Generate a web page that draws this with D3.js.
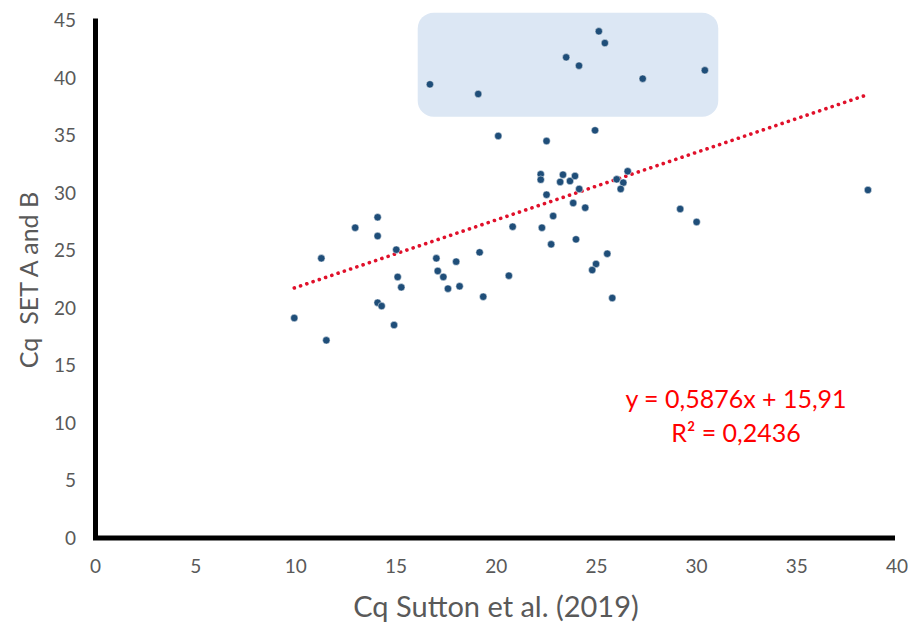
<!DOCTYPE html>
<html>
<head>
<meta charset="utf-8">
<script src="https://cdn.jsdelivr.net/npm/d3@7"></script>
<style>
  html, body { margin: 0; padding: 0; background: #fff; }
  svg { display: block; font-family: Lato, "Open Sans", sans-serif; }
</style>
</head>
<body>
<div id="chart"></div>
<script>
// Cq values
const cqSutton = [
  16.69, 19.10, 23.49, 24.13, 25.12, 25.42, 27.31, 30.41,
  20.10, 22.51, 24.93, 22.22, 22.22, 23.33, 23.19, 23.68, 23.93, 24.14,
  22.51, 23.84, 24.44, 22.84, 20.82, 22.28, 23.98, 22.74,
  14.08, 12.96, 14.08, 15.01, 11.27, 19.17, 17.01, 18.00, 17.08, 17.36,
  15.08, 15.26, 17.59, 18.17, 20.63, 19.35, 24.98, 24.79, 25.54, 25.79,
  14.08, 14.28, 14.90, 9.92, 11.52,
  26.56, 26.01, 26.34, 26.21, 29.18, 30.00, 38.55
];
const cqSetAB = [
  39.45, 38.61, 41.80, 41.07, 44.06, 43.04, 39.94, 40.67,
  34.96, 34.52, 35.45, 31.63, 31.16, 31.59, 30.96, 31.04, 31.48, 30.35,
  29.85, 29.13, 28.72, 28.00, 27.07, 26.98, 25.97, 25.54,
  27.89, 26.98, 26.26, 25.07, 24.32, 24.84, 24.32, 24.03, 23.22, 22.70,
  22.70, 21.80, 21.68, 21.89, 22.81, 20.98, 23.83, 23.30, 24.72, 20.87,
  20.46, 20.17, 18.52, 19.13, 17.19,
  31.89, 31.19, 30.90, 30.35, 28.61, 27.48, 30.26
];
const xTicks = [0, 5, 10, 15, 20, 25, 30, 35, 40];
const yTicks = [0, 5, 10, 15, 20, 25, 30, 35, 40, 45];
// linear trend as printed on the chart
const slope = 0.5876;
const intercept = 15.91;
const eqLines = ["y = 0,5876x + 15,91", "R² = 0,2436"];
// highlighted group (data units)
const boxX = [16.08, 31.08];
const boxY = [36.63, 45.68];

const width = 908, height = 627;
const svg = d3.select("#chart").append("svg")
  .attr("width", width).attr("height", height);

const x = d3.scaleLinear().domain([0, 40]).range([95.5, 897]);
const y = d3.scaleLinear().domain([0, 45]).range([538, 20.5]);

// highlight box
svg.append("rect")
  .attr("x", x(boxX[0])).attr("y", y(boxY[1]))
  .attr("width", x(boxX[1]) - x(boxX[0]))
  .attr("height", y(boxY[0]) - y(boxY[1]))
  .attr("rx", 16).attr("ry", 16)
  .attr("fill", "#dce7f4");

// tick labels
svg.append("g").selectAll("text").data(xTicks).join("text")
  .attr("x", (d) => x(d)).attr("y", 573)
  .attr("text-anchor", "middle")
  .attr("font-size", "19px").attr("fill", "#595959")
  .text((d) => d);

svg.append("g").selectAll("text").data(yTicks).join("text")
  .attr("x", 76).attr("y", (d) => y(d)).attr("dy", "0.35em")
  .attr("text-anchor", "end")
  .attr("font-size", "19px").attr("fill", "#595959")
  .text((d) => d);

// axes (thick black lines, no tick marks)
svg.append("path")
  .attr("d", `M${x(0)},${y(45) - 2}V${y(0)}H${x(39.9)}`)
  .attr("fill", "none").attr("stroke", "#000")
  .attr("stroke-width", 5).attr("stroke-linejoin", "miter");

// trendline
const xExt = d3.extent(cqSutton);
svg.append("line")
  .attr("x1", x(xExt[0])).attr("y1", y(slope * xExt[0] + intercept))
  .attr("x2", x(xExt[1])).attr("y2", y(slope * xExt[1] + intercept))
  .attr("stroke", "#e0102a").attr("stroke-width", 3.6)
  .attr("stroke-linecap", "round")
  .attr("stroke-dasharray", "0.1,6.5");

// points
svg.append("g").selectAll("circle").data(cqSutton).join("circle")
  .attr("cx", (d) => x(d))
  .attr("cy", (d, i) => y(cqSetAB[i]))
  .attr("r", 3.7)
  .attr("fill", "#1f4e79")
  .attr("stroke", "#fff").attr("stroke-opacity", 0.6).attr("stroke-width", 0.8);

// equation
svg.append("g").selectAll("text").data(eqLines).join("text")
  .attr("x", 736).attr("y", (d, i) => 408 + i * 34)
  .attr("text-anchor", "middle")
  .attr("font-size", "25px").attr("fill", "#ff0000")
  .text((d) => d);

// axis titles
svg.append("text")
  .attr("x", 496).attr("y", 617)
  .attr("text-anchor", "middle")
  .attr("font-size", "29px").attr("fill", "#595959")
  .text("Cq Sutton et al. (2019)");

svg.append("text")
  .attr("transform", "translate(38,280) rotate(-90)")
  .attr("text-anchor", "middle")
  .attr("font-size", "25px").attr("fill", "#595959")
  .attr("xml:space", "preserve")
  .style("white-space", "pre")
  .text("Cq  SET A and B");
</script>
</body>
</html>
